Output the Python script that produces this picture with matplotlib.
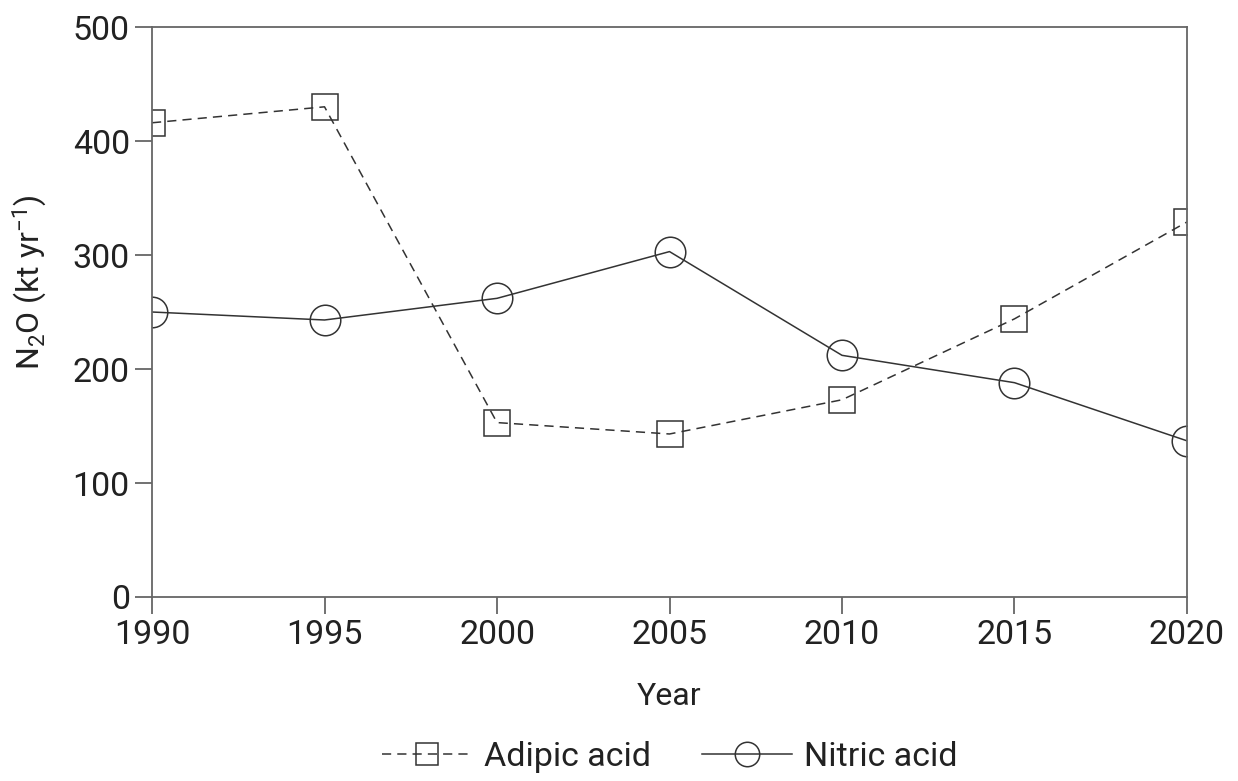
import matplotlib
matplotlib.use('Agg')
import matplotlib.pyplot as plt

years = [1990, 1995, 2000, 2005, 2010, 2015, 2020]
adipic = [416, 430, 153, 143, 173, 244, 329]
nitric = [250, 243, 262, 303, 212, 188, 137]

plt.rcParams['font.family'] = ['Roboto', 'DejaVu Sans']
plt.rcParams['mathtext.fontset'] = 'custom'
plt.rcParams['mathtext.rm'] = 'Roboto'
plt.rcParams['mathtext.default'] = 'rm'
col = '#333333'

fig = plt.figure(figsize=(12.38, 7.81), dpi=100)
ax = fig.add_axes([0.1228, 0.2356, 0.836, 0.7298])

ax.plot(years, adipic, color=col, lw=1.1, linestyle=(0, (6, 4)), marker='s', markersize=19,
        markerfacecolor='none', markeredgecolor=col, markeredgewidth=1.1, label='Adipic acid')
ax.plot(years, nitric, color=col, lw=1.1, linestyle='-', marker='o', markersize=22,
        markerfacecolor='none', markeredgecolor=col, markeredgewidth=1.1, label='Nitric acid')

ax.set_xlim(1990, 2020)
ax.set_ylim(0, 500)
ax.set_xticks(years)
ax.set_yticks([0, 100, 200, 300, 400, 500])
for s in ax.spines.values():
    s.set_color('#666666')
    s.set_linewidth(1.3)
ax.tick_params(direction='out', length=12, width=1.3, color='#666666', labelsize=24.5,
               labelcolor='#222222', pad=4)

ax.set_xlabel('Year', fontsize=23, color='#222222', labelpad=22)
ax.set_ylabel('N$_2$O (kt yr$^{-1}$)', fontsize=23, color='#222222')
ax.yaxis.set_label_coords(-0.1, 0.553)

leg = ax.legend(loc='center', bbox_to_anchor=(0.5, -0.28), ncol=2, frameon=False,
                fontsize=24.5, markerscale=0.8, handlelength=2.65, columnspacing=1.5,
                handletextpad=0.35)
for t in leg.get_texts():
    t.set_color('#222222')

fig.savefig('out.png', dpi=100)
